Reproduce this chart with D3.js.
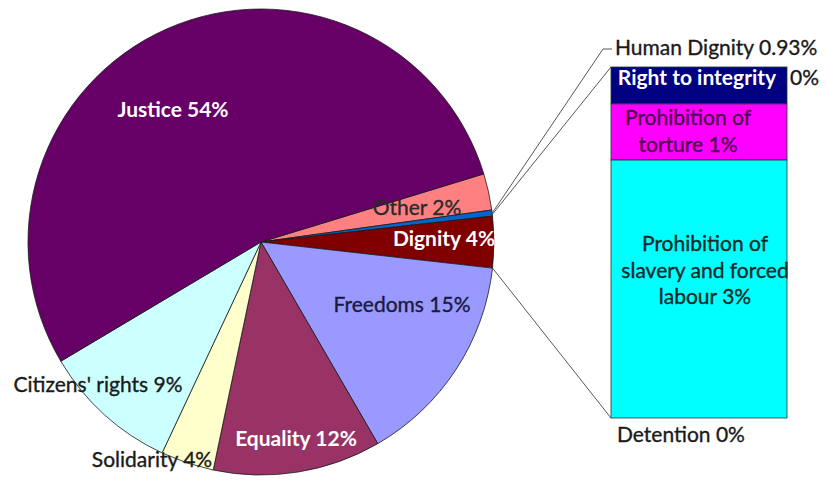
<!DOCTYPE html>
<html><head><meta charset="utf-8">
<script src="https://cdn.jsdelivr.net/npm/d3@7"></script>
<style>
body{margin:0;background:#fff}
svg{display:block}
text{font-family:Lato,"Open Sans",sans-serif;font-size:21px}
</style>
</head><body>
<svg id="chart" width="826" height="483"></svg>
<script>
// ---- data ----
const categories = ["Other", "Human Dignity", "Dignity", "Freedoms", "Equality", "Solidarity", "Citizens' rights", "Justice"];
const values = [2.53, 0.42, 3.56, 14.86, 11.64, 3.69, 9.47, 53.83];
const labels = ["Other 2%", "Human Dignity 0.93%", "Dignity 4%", "Freedoms 15%", "Equality 12%", "Solidarity 4%", "Citizens' rights 9%", "Justice 54%"];
const barCategories = ["Right to integrity", "Prohibition of torture", "Prohibition of slavery and forced labour", "Detention"];
const barValues = [0.375, 0.57, 2.62, 0];
const barLabels = [["Right to integrity"], ["Prohibition of", "torture 1%"], ["Prohibition of", "slavery and forced", "labour 3%"], ["Detention 0%"]];
const barOuterLabels = ["0%", "", "", ""];

// ---- styles ----
const colors = ["#FF8080", "#0066CC", "#800000", "#9999FF", "#993366", "#FFFFCC", "#CCFFFF", "#660066"];
const barColors = ["#000080", "#FF00FF", "#00FFFF", "#FFFFFF"];

const svg = d3.select("#chart");
const cx = 261, cy = 242, R = 233;
const start = 73 * Math.PI / 180;

const pie = d3.pie().sort(null).value(d => d).startAngle(start).endAngle(start + 2 * Math.PI);
const arcs = pie(values);
const arc = d3.arc().innerRadius(0).outerRadius(R);

const g = svg.append("g").attr("transform", `translate(${cx},${cy})`);
g.selectAll("path").data(arcs).join("path")
  .attr("d", arc)
  .attr("fill", (d, i) => colors[i])
  .attr("stroke", "#1a1a1a")
  .attr("stroke-width", 0.8);

const rim = a => [cx + R * Math.sin(a), cy - R * Math.cos(a)];

// ---- bar of pie ----
const barX = 611, barW = 176;
const y = d3.scaleLinear().domain([0, d3.sum(barValues)]).range([67, 418]);
let acc = 0;
const segs = barValues.map((v, i) => { const s = { i, y0: acc, y1: acc + v }; acc += v; return s; });

svg.append("g").selectAll("rect").data(segs.filter(s => s.y1 > s.y0)).join("rect")
  .attr("x", barX).attr("width", barW)
  .attr("y", s => y(s.y0)).attr("height", s => y(s.y1) - y(s.y0))
  .attr("fill", s => barColors[s.i])
  .attr("stroke", "#1a3a3a").attr("stroke-width", 0.8);

// connector lines
const dig = arcs[2];
const lineG = svg.append("g").attr("fill", "none").attr("stroke", "#444").attr("stroke-width", 0.9);
const pTop = rim(dig.startAngle), pBot = rim(dig.endAngle);
lineG.append("line").attr("x1", pTop[0]).attr("y1", pTop[1] - 2).attr("x2", barX).attr("y2", y(0));
lineG.append("line").attr("x1", pBot[0]).attr("y1", pBot[1]).attr("x2", barX).attr("y2", y(d3.sum(barValues)));
// leader line for Human Dignity
const hd = arcs[1];
const pHd = rim((hd.startAngle + hd.endAngle) / 2);
lineG.append("polyline").attr("points", `${pHd[0]},${pHd[1]} 603,49 612,49`);

// ---- pie labels ----
const pieLabelPos = [
  { x: 417, y: 215, fill: "#2a2a2a", w: 400, anchor: "middle" },
  { x: 615, y: 55, fill: "#1a1a1a", w: 400, anchor: "start" },
  { x: 444, y: 246, fill: "#ffffff", w: 700, anchor: "middle" },
  { x: 402, y: 312, fill: "#1a1a40", w: 400, anchor: "middle" },
  { x: 296, y: 446, fill: "#ffffff", w: 700, anchor: "middle" },
  { x: 152, y: 467, fill: "#1a1a1a", w: 400, anchor: "middle" },
  { x: 98, y: 392, fill: "#1a1a1a", w: 400, anchor: "middle" },
  { x: 173, y: 117, fill: "#ffffff", w: 700, anchor: "middle" }
];
svg.append("g").selectAll("text").data(labels).join("text")
  .attr("x", (d, i) => pieLabelPos[i].x)
  .attr("y", (d, i) => pieLabelPos[i].y)
  .attr("text-anchor", (d, i) => pieLabelPos[i].anchor)
  .attr("fill", (d, i) => pieLabelPos[i].fill)
  .attr("stroke", (d, i) => pieLabelPos[i].w === 400 ? pieLabelPos[i].fill : "none")
  .attr("stroke-width", 0.35)
  .attr("font-weight", (d, i) => pieLabelPos[i].w)
  .text(d => d);

// ---- bar labels ----
const barLabelStyle = [
  { x: 697, fill: "#ffffff", w: 700 },
  { x: 688, fill: "#4a004a", w: 400 },
  { x: 705, fill: "#102828", w: 400 },
  { x: 617, fill: "#1a1a1a", w: 400, anchor: "start" }
];
const barBase = [85, 125, 251, 442];
segs.forEach(s => {
  const st = barLabelStyle[s.i];
  const t = svg.append("text")
    .attr("text-anchor", st.anchor || "middle")
    .attr("fill", st.fill).attr("font-weight", st.w)
    .attr("stroke", st.w === 400 ? st.fill : "none").attr("stroke-width", 0.35);
  barLabels[s.i].forEach((line, k) => {
    t.append("tspan").attr("x", st.x).attr("y", barBase[s.i] + k * 26.5).text(line);
  });
  if (barOuterLabels[s.i]) {
    svg.append("text").attr("x", barX + barW + 3).attr("y", barBase[s.i])
      .attr("fill", "#1a1a1a").attr("stroke", "#1a1a1a").attr("stroke-width", 0.35)
      .text(barOuterLabels[s.i]);
  }
});
</script>
</body></html>
